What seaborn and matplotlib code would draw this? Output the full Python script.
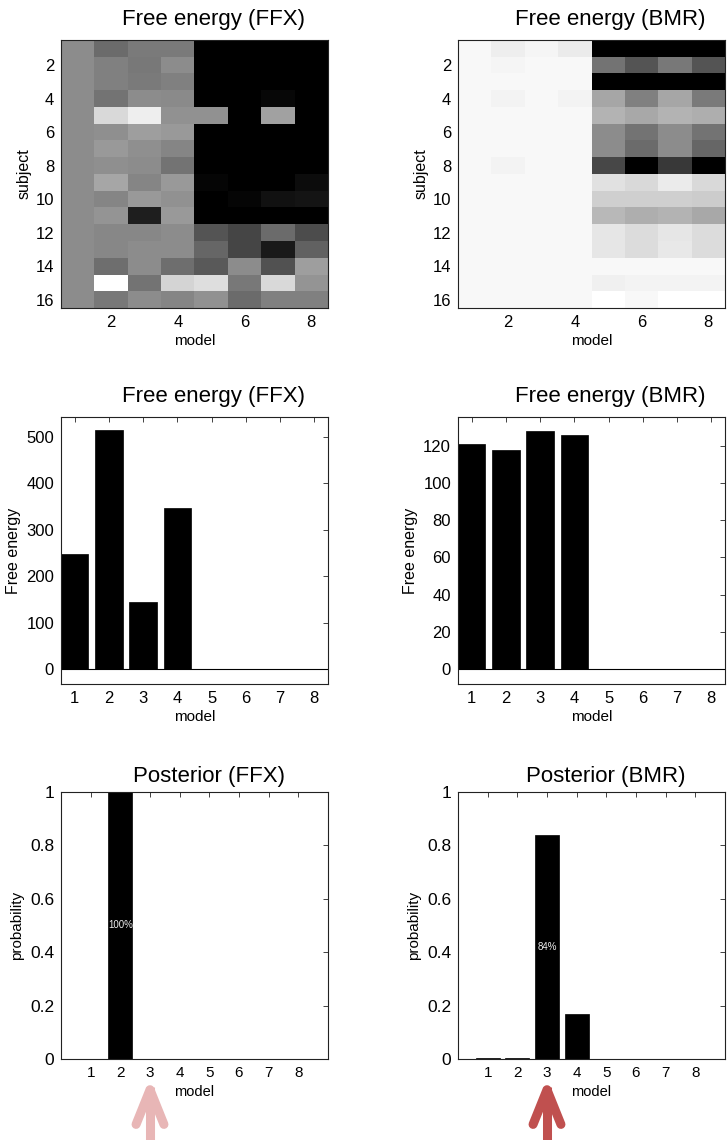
import numpy as np
import pandas as pd
import matplotlib
matplotlib.use("Agg")
import matplotlib.pyplot as plt
import seaborn as sns

# ---------------- data ----------------
models = [1, 2, 3, 4, 5, 6, 7, 8]
subjects = list(range(1, 17))

# subject x model free energy, shown as scaled grey level (0 = black, 1 = white)
F_ffx_scaled = [
    [.55, .42, .48, .48, .00, .00, .00, .00],
    [.55, .50, .47, .55, .00, .00, .00, .00],
    [.55, .50, .48, .50, .00, .00, .00, .00],
    [.55, .45, .55, .54, .00, .00, .03, .00],
    [.55, .85, .93, .57, .57, .00, .63, .00],
    [.55, .56, .62, .60, .00, .00, .00, .00],
    [.55, .60, .56, .52, .00, .00, .00, .00],
    [.55, .56, .55, .45, .00, .00, .00, .00],
    [.55, .65, .52, .60, .02, .00, .00, .05],
    [.55, .52, .60, .57, .00, .02, .07, .08],
    [.55, .58, .12, .60, .00, .00, .00, .00],
    [.55, .53, .53, .55, .33, .27, .42, .30],
    [.55, .53, .55, .55, .40, .27, .10, .38],
    [.55, .43, .55, .43, .35, .55, .32, .62],
    [.55, 1.0, .45, .83, .87, .47, .85, .58],
    [.55, .47, .55, .52, .57, .42, .50, .50],
]
F_bmr_scaled = [
    [.97, .93, .96, .92, .00, .00, .00, .00],
    [.97, .96, .97, .97, .45, .33, .47, .33],
    [.97, .97, .97, .97, .00, .00, .00, .00],
    [.97, .95, .97, .95, .65, .50, .65, .48],
    [.97, .97, .97, .97, .70, .66, .70, .68],
    [.97, .97, .97, .97, .55, .45, .55, .45],
    [.97, .97, .97, .97, .55, .42, .55, .40],
    [.97, .95, .97, .97, .28, .00, .22, .00],
    [.97, .97, .97, .97, .88, .85, .92, .85],
    [.97, .97, .97, .97, .81, .81, .81, .80],
    [.97, .97, .97, .97, .72, .68, .70, .66],
    [.97, .97, .97, .97, .90, .86, .90, .86],
    [.97, .97, .97, .97, .90, .86, .91, .86],
    [.97, .97, .97, .97, .97, .97, .97, .97],
    [.97, .97, .97, .97, .94, .95, .95, .95],
    [.97, .97, .97, .97, 1.0, .97, 1.0, 1.0],
]

F_group_ffx = [247, 514, 145, 348, 0, 0, 0, 0]
F_group_bmr = [121, 118, 128, 126, 0, 0, 0, 0]

P_ffx = [0.0, 1.0, 0.0, 0.0, 0.0, 0.0, 0.0, 0.0]
P_bmr = [0.003, 0.003, 0.838, 0.168, 0.0, 0.0, 0.0, 0.0]

heat_xticks = [2, 4, 6, 8]
heat_yticks = [2, 4, 6, 8, 10, 12, 14, 16]
ffx_yticks = [0, 100, 200, 300, 400, 500]
bmr_yticks = [0, 20, 40, 60, 80, 100, 120]
prob_yticks = [0, 0.2, 0.4, 0.6, 0.8, 1]
prob_yticklabels = ["0", "0.2", "0.4", "0.6", "0.8", "1"]

# ---------------- style ----------------
sns.set_style("white")
plt.rcParams["font.family"] = ["Liberation Sans", "DejaVu Sans"]
plt.rcParams["text.color"] = "black"
plt.rcParams["axes.labelcolor"] = "black"
plt.rcParams["axes.titlecolor"] = "black"
plt.rcParams["axes.edgecolor"] = "#222222"
plt.rcParams["axes.linewidth"] = 0.8

W, H = 728, 1140
fig = plt.figure(figsize=(W / 100, H / 100), dpi=100)


def add_ax(x0, top, w, h):
    return fig.add_axes([x0 / W, 1 - (top + h) / H, w / W, h / H])


def matlab_box(ax, size=12):
    for s in ax.spines.values():
        s.set_visible(True)
        s.set_color("#222222")
        s.set_linewidth(0.8)
    ax.tick_params(direction="in", top=True, right=True, length=3.5, width=0.6,
                   labelsize=size, colors="#222222", labelcolor="black", pad=5)


LX, RX, AW = 61, 458, 267
ROW1, ROW2, ROW3 = (40, 268), (417, 267), (792, 267)

# ---------------- row 1: heatmaps ----------------
for x0, mat, title in [(LX, F_ffx_scaled, "Free energy (FFX)"),
                       (RX, F_bmr_scaled, "Free energy (BMR)")]:
    ax = add_ax(x0, ROW1[0], AW, ROW1[1])
    df = pd.DataFrame(mat, index=subjects, columns=models)
    sns.heatmap(df, cmap="gray", vmin=0, vmax=1, cbar=False, ax=ax,
                xticklabels=False, yticklabels=False, linewidths=0)
    ax.set_xticks([m - 0.5 for m in heat_xticks])
    ax.set_xticklabels([str(m) for m in heat_xticks], rotation=0)
    ax.set_yticks([s - 0.5 for s in heat_yticks])
    ax.set_yticklabels([str(s) for s in heat_yticks], rotation=0)
    ax.set_xlabel("model", fontsize=11, labelpad=3)
    ax.set_ylabel("subject", fontsize=11.5, labelpad=3)
    ax.set_title(title, fontsize=16, x=0.57, pad=11)
    matlab_box(ax)

# ---------------- row 2: group free energy ----------------
for x0, vals, title, yt, ylim in [(LX, F_group_ffx, "Free energy (FFX)", ffx_yticks, (-32, 543)),
                                  (RX, F_group_bmr, "Free energy (BMR)", bmr_yticks, (-8, 135.5))]:
    ax = add_ax(x0, ROW2[0], AW, ROW2[1])
    df = pd.DataFrame({"model": models, "F": vals})
    sns.barplot(data=df, x="model", y="F", native_scale=True, color="black",
                saturation=1, width=0.8, errorbar=None, ax=ax, edgecolor="black",
                linewidth=0.5)
    ax.axhline(0, color="black", lw=0.8)
    ax.set_xlim(0.6, 8.4)
    ax.set_ylim(*ylim)
    ax.set_xticks(models)
    ax.set_xticklabels([str(m) for m in models])
    ax.set_yticks(yt)
    ax.set_yticklabels([str(v) for v in yt])
    ax.set_xlabel("model", fontsize=11, labelpad=3)
    ax.set_ylabel("Free energy", fontsize=11.5, labelpad=4)
    ax.set_title(title, fontsize=16, x=0.57, pad=11)
    matlab_box(ax)

# ---------------- row 3: posterior ----------------
for x0, vals, title, col in [(LX, P_ffx, "Posterior (FFX)", "#e8b6b6"),
                             (RX, P_bmr, "Posterior (BMR)", "#c0504f")]:
    ax = add_ax(x0, ROW3[0], AW, ROW3[1])
    df = pd.DataFrame({"model": models, "P": vals})
    sns.barplot(data=df, x="model", y="P", native_scale=True, color="black",
                saturation=1, width=0.8, errorbar=None, ax=ax, edgecolor="black",
                linewidth=0.5)
    ax.set_xlim(0, 9)
    ax.set_ylim(0, 1)
    ax.set_xticks(models)
    ax.set_xticklabels([str(m) for m in models])
    ax.set_yticks(prob_yticks)
    ax.set_yticklabels(prob_yticklabels)
    ax.set_xlabel("model", fontsize=10.5, labelpad=4)
    ax.set_ylabel("probability", fontsize=11, labelpad=4)
    ax.set_title(title, fontsize=16, x=0.555, pad=7)
    matlab_box(ax)
    ax.tick_params(axis="y", labelsize=12.5)
    ax.tick_params(axis="x", labelsize=11)
    # percentage label on the winning model
    k = int(np.argmax(vals))
    ax.text(models[k], vals[k] / 2, f"{round(vals[k] * 100)}%", color="#eeeeee",
            fontsize=7, ha="center", va="center")
    # arrow under model 3
    tr = ax.get_xaxis_transform()
    tip_y, tail_y, arm_dy, arm_dx = -0.115, -0.31, 0.13, 0.47
    ax.plot([3, 3], [tail_y, tip_y + 0.01], color=col, lw=6.5, transform=tr,
            clip_on=False, solid_capstyle="butt")
    ax.plot([3 - arm_dx, 3, 3 + arm_dx], [tip_y - arm_dy, tip_y, tip_y - arm_dy],
            color=col, lw=6.5, transform=tr, clip_on=False,
            solid_capstyle="round", solid_joinstyle="round")

fig.savefig("out.png", dpi=100)
